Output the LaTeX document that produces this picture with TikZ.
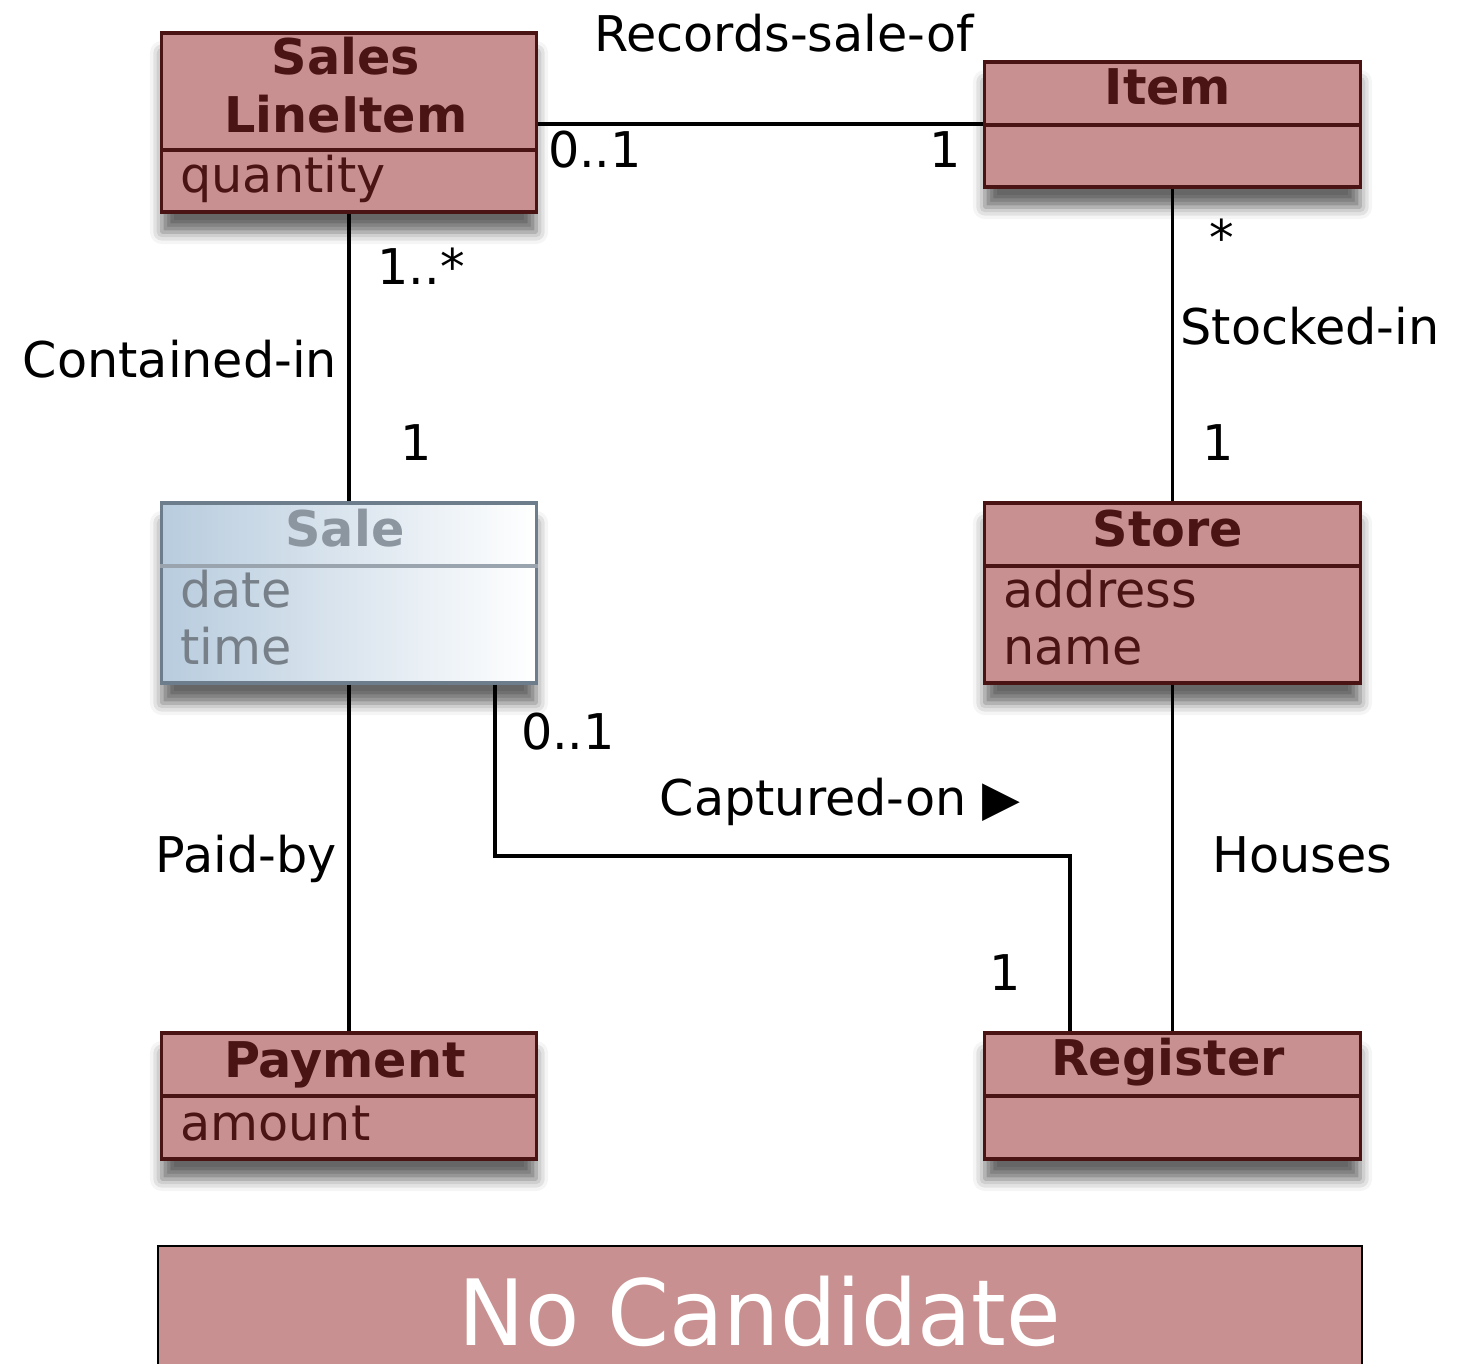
\documentclass[tikz,border=0pt]{standalone}
\usepackage{fontspec}
\setmainfont{DejaVu Sans}
\usetikzlibrary{shadows.blur}
\definecolor{clsfill}{RGB}{200,144,144}
\definecolor{clsdraw}{RGB}{75,20,20}
\definecolor{clstext}{RGB}{75,20,20}
\definecolor{salefill}{RGB}{184,204,222}
\definecolor{saledraw}{RGB}{110,125,140}
\definecolor{saletext}{RGB}{140,150,160}
\tikzset{
  cls/.style={draw=clsdraw, line width=0.9pt, fill=clsfill, inner sep=0pt,
    blur shadow={shadow xshift=0pt, shadow yshift=-0.2cm, shadow blur radius=0.12cm, shadow opacity=60}},
  salebox/.style={draw=saledraw, line width=0.9pt, left color=salefill, right color=white, inner sep=0pt,
    blur shadow={shadow xshift=0pt, shadow yshift=-0.2cm, shadow blur radius=0.12cm, shadow opacity=60}},
  divline/.style={draw=clsdraw, line width=0.9pt},
  ttl/.style={anchor=base, font=\fontsize{14}{17}\selectfont\bfseries, text=clstext},
  attr/.style={anchor=base west, text=clstext},
  assoc/.style={draw=black, line width=0.9pt},
  lbl/.style={anchor=base}
}
\begin{document}
\begin{tikzpicture}[x=0.01cm, y=-0.01cm, font=\fontsize{14}{17}\selectfont]
\useasboundingbox (0,0) rectangle (1469,1364);
% class boxes
\node[cls, minimum width=3.74cm, minimum height=1.79cm] (sli) at (349,122.5) {};
\draw[divline] (sli.west |- 0,150) -- (sli.east |- 0,150);
\node[ttl] (sliT1) at (346,75) {Sales};
\node[ttl] (sliT2) at (346,133) {LineItem};
\node[attr] (sliA) at (168,193) {quantity};

\node[cls, minimum width=3.75cm, minimum height=1.25cm] (item) at (1172.5,124.5) {};
\draw[divline] (item.west |- 0,125) -- (item.east |- 0,125);
\node[ttl] (itemT) at (1168,105) {Item};

\node[salebox, minimum width=3.74cm, minimum height=1.8cm] (sale) at (349,593) {};
\draw[draw=saledraw!70, line width=0.9pt] (sale.west |- 0,566) -- (sale.east |- 0,566);
\node[ttl, text=saletext] (saleT) at (345,547) {Sale};
\node[attr, text=saletext!85!black] (saleA1) at (168,608) {date};
\node[attr, text=saletext!85!black] (saleA2) at (168,665) {time};

\node[cls, minimum width=3.75cm, minimum height=1.8cm] (store) at (1172.5,593) {};
\draw[divline] (store.west |- 0,566) -- (store.east |- 0,566);
\node[ttl] (storeT) at (1168,547) {Store};
\node[attr] (storeA1) at (991,608) {address};
\node[attr] (storeA2) at (991,665) {name};

\node[cls, minimum width=3.74cm, minimum height=1.26cm] (pay) at (349,1096) {};
\draw[divline] (pay.west |- 0,1096) -- (pay.east |- 0,1096);
\node[ttl] (payT) at (345,1077) {Payment};
\node[attr] (payA) at (168,1140) {amount};

\node[cls, minimum width=3.75cm, minimum height=1.26cm] (reg) at (1172.5,1096) {};
\draw[divline] (reg.west |- 0,1096) -- (reg.east |- 0,1096);
\node[ttl] (regT) at (1168,1075) {Register};

% associations
\coordinate (capA) at (495,856);
\coordinate (capB) at (1070,0);
\draw[assoc] (item.west |- 0,124) -- (sli.east |- 0,124);
\draw[assoc] (sli.south) -- (sale.north);
\draw[assoc] (item.south) -- (store.north);
\draw[assoc] (sale.south) -- (pay.north);
\draw[assoc] (store.south) -- (reg.north);
\draw[assoc] (sale.south -| capA) -- (capA) -| (reg.north -| capB);

% labels
\node[lbl] (recLbl) at (784,52) {Records-sale-of};
\node[lbl] (recM1) at (595,168) {0..1};
\node[lbl] (recM2) at (945,168) {1};
\node[lbl] (conM1) at (421,285) {1..*};
\node[lbl] (conLbl) at (180,378) {Contained-in};
\node[lbl] (conM2) at (416,461) {1};
\node[lbl] (stoM1) at (1222,256) {*};
\node[lbl] (stoLbl) at (1310,345) {Stocked-in};
\node[lbl] (stoM2) at (1218,461) {1};
\node[lbl] (capM1) at (568,750) {0..1};
\node[lbl] (capLbl) at (840,815) {Captured-on ▶};
\node[lbl] (paidLbl) at (246,872) {Paid-by};
\node[lbl] (houLbl) at (1302,872) {Houses};
\node[lbl] (capM2) at (1005,990) {1};

% verdict
\node[draw=black, line width=0.6pt, fill=clsfill, minimum width=12.04cm, minimum height=1.4cm] (noCand) at (760,1316) {};
\node[anchor=base, text=white, font=\fontsize{26}{30}\selectfont, xscale=0.97] (noCandT) at (760,1345) {No Candidate};
\end{tikzpicture}
\end{document}
